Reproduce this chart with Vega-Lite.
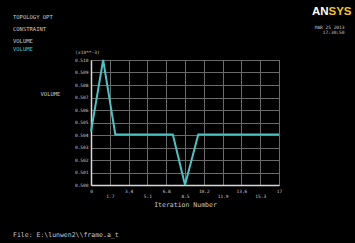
{
  "$schema": "https://vega.github.io/schema/vega-lite/v6.json",
  "width": 188,
  "height": 125,
  "autosize": {"type": "none"},
  "padding": {"left": 91, "top": 60, "right": 76, "bottom": 58},
  "background": "#000000",
  "title": {
    "text": ["TOPOLOGY OPT", "CONSTRAINT", "VOLUME"],
    "subtitle": "VOLUME",
    "orient": "top",
    "anchor": "start",
    "frame": "group",
    "offset": 0,
    "dx": -78,
    "dy": 46,
    "font": "DejaVu Sans Mono",
    "fontSize": 5.5,
    "fontWeight": "normal",
    "lineHeight": 12,
    "color": "#c8c8c8",
    "subtitleFont": "DejaVu Sans Mono",
    "subtitleFontSize": 5.5,
    "subtitleFontWeight": "normal",
    "subtitleColor": "#4cc3c3",
    "subtitlePadding": 2
  },
  "data": {
    "values": [
      {"iteration": 0, "volume": 0.50428, "series": "VOLUME", "brand": "ANSYS"},
      {"iteration": 1.1, "volume": 0.51, "series": "VOLUME", "brand": "ANSYS"},
      {"iteration": 2.2, "volume": 0.50404, "series": "VOLUME", "brand": "ANSYS"},
      {"iteration": 7.4, "volume": 0.50404, "series": "VOLUME", "brand": "ANSYS"},
      {"iteration": 8.5, "volume": 0.5, "series": "VOLUME", "brand": "ANSYS"},
      {"iteration": 9.7, "volume": 0.50404, "series": "VOLUME", "brand": "ANSYS"},
      {"iteration": 17, "volume": 0.50404, "series": "VOLUME", "brand": "ANSYS"}
    ]
  },
  "layer": [
    {
      "mark": {"type": "line", "strokeWidth": 2},
      "encoding": {
        "x": {
          "field": "iteration",
          "type": "quantitative",
          "scale": {"domain": [0, 17], "nice": false, "zero": false},
          "axis": {
            "orient": "bottom",
            "values": [0, 1.7, 3.4, 5.1, 6.8, 8.5, 10.2, 11.9, 13.6, 15.3, 17],
            "labelExpr": "datum.value == 0 ? '0' : datum.value == 17 ? '17' : format(datum.value, '.1f')",
            "labelFont": "DejaVu Sans Mono",
            "labelFontSize": 4.5,
            "labelColor": "#c8c8c8",
            "labelFlush": false,
            "labelOverlap": false,
            "labelPadding": 8,
            "labelBaseline": {"condition": {"test": "round(datum.value / 1.7) % 2 == 1", "value": "top"}, "value": "bottom"},
            "ticks": false,
            "grid": true,
            "gridColor": "#6a6a6a",
            "gridWidth": 1,
            "domainColor": "#d8d8d8",
            "domainWidth": 1.5,
            "title": "Iteration Number",
            "titleFont": "DejaVu Sans Mono",
            "titleFontSize": 6.5,
            "titleFontWeight": "normal",
            "titleColor": "#c8c8c8",
            "titleY": 19,
            "titleBaseline": "middle"
          }
        },
        "y": {
          "field": "volume",
          "type": "quantitative",
          "scale": {"domain": [0.5, 0.51], "nice": false, "zero": false},
          "axis": {
            "orient": "left",
            "values": [0.5, 0.501, 0.502, 0.503, 0.504, 0.505, 0.506, 0.507, 0.508, 0.509, 0.51],
            "format": ".3f",
            "labelFont": "DejaVu Sans Mono",
            "labelFontSize": 4.5,
            "labelColor": "#c8c8c8",
            "labelFlush": false,
            "labelOverlap": false,
            "labelPadding": 3,
            "ticks": false,
            "grid": true,
            "gridColor": "#6a6a6a",
            "gridWidth": 1,
            "domainColor": "#d8d8d8",
            "domainWidth": 1.5,
            "title": "VOLUME",
            "titleAngle": 0,
            "titleFont": "DejaVu Sans Mono",
            "titleFontSize": 5.5,
            "titleFontWeight": "normal",
            "titleColor": "#c8c8c8",
            "titleX": -41,
            "titleY": 33,
            "titleAlign": "center",
            "titleBaseline": "middle"
          }
        },
        "color": {
          "field": "series",
          "type": "nominal",
          "scale": {"range": ["#4cc3c3"]},
          "legend": {
            "orient": "none",
            "legendX": -78,
            "legendY": 171.5,
            "padding": 0,
            "title": "File: E:\\lunwen2\\\\frame.a_t",
            "titleFont": "DejaVu Sans Mono",
            "titleFontSize": 6.5,
            "titleFontWeight": "normal",
            "titleColor": "#c8c8c8",
            "titleLimit": 300,
            "labelOpacity": 0,
            "labelFontSize": 1,
            "symbolSize": 0,
            "symbolOpacity": 0,
            "symbolStrokeWidth": 0
          }
        },
        "strokeDash": {
          "field": "brand",
          "type": "nominal",
          "scale": {"range": [[1, 0]]},
          "legend": {
            "orient": "none",
            "legendX": 221,
            "legendY": -54,
            "padding": 0,
            "title": "AN",
            "titleOrient": "left",
            "titleFont": "Liberation Sans",
            "titleFontSize": 11.5,
            "titleFontWeight": "bold",
            "titleColor": "#ffffff",
            "titlePadding": 0,
            "labelExpr": "'SYS'",
            "labelFont": "Liberation Sans",
            "labelFontSize": 11.5,
            "labelFontWeight": "bold",
            "labelColor": "#f2c230",
            "labelOffset": -12,
            "symbolSize": 0,
            "symbolOpacity": 0,
            "symbolStrokeWidth": 0
          }
        }
      }
    },
    {
      "mark": {"type": "line", "opacity": 0},
      "encoding": {
        "x": {
          "field": "iteration",
          "type": "quantitative",
          "axis": {
            "orient": "top",
            "labels": false,
            "ticks": false,
            "domain": false,
            "grid": false,
            "title": "(x10**-3)",
            "titleFont": "DejaVu Sans Mono",
            "titleFontSize": 4.5,
            "titleFontWeight": "normal",
            "titleColor": "#c8c8c8",
            "titleX": -4,
            "titleY": -8,
            "titleAlign": "center",
            "titleBaseline": "middle"
          }
        },
        "y": {
          "field": "volume",
          "type": "quantitative",
          "axis": {
            "orient": "right",
            "labels": false,
            "ticks": false,
            "domain": false,
            "grid": false,
            "title": ["MAR 25 2013", "17:30:50"],
            "titleAngle": 0,
            "titleFont": "DejaVu Sans Mono",
            "titleFontSize": 4.5,
            "titleFontWeight": "normal",
            "titleColor": "#c8c8c8",
            "titleLineHeight": 5.5,
            "titleX": 65,
            "titleY": -33,
            "titleAlign": "right",
            "titleBaseline": "middle"
          }
        }
      }
    }
  ],
  "resolve": {"axis": {"x": "independent", "y": "independent"}},
  "config": {"view": {"stroke": "#6a6a6a"}}
}
